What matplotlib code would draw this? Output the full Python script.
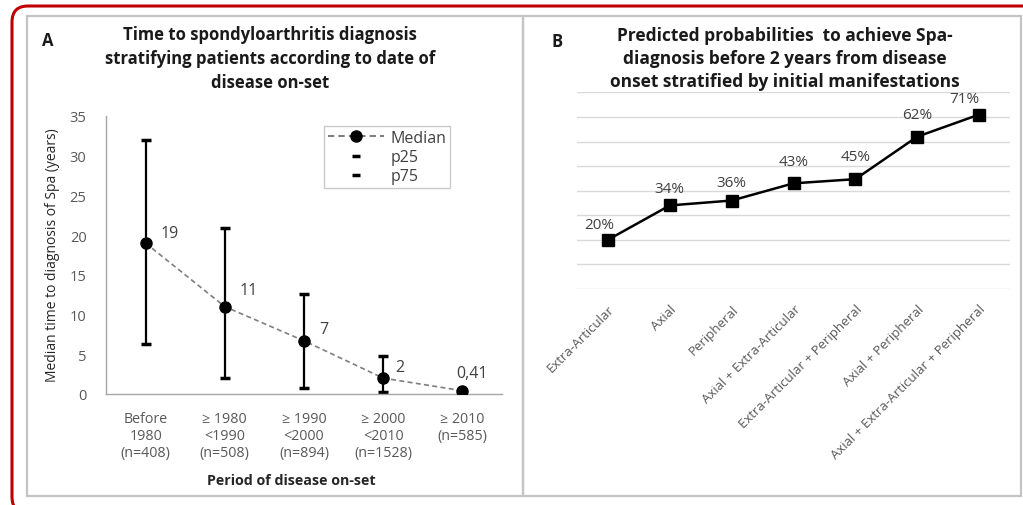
import matplotlib
matplotlib.use("Agg")
import matplotlib.pyplot as plt
from matplotlib.patches import FancyBboxPatch, Rectangle
from matplotlib.lines import Line2D
from matplotlib.transforms import IdentityTransform
import numpy as np

plt.rcParams['font.family'] = ['Open Sans', 'DejaVu Sans']

# ---- Panel A data ----
periods = ["Before\n1980\n(n=408)", "\u2265 1980\n<1990\n(n=508)", "\u2265 1990\n<2000\n(n=894)",
           "\u2265 2000\n<2010\n(n=1528)", "\u2265 2010\n(n=585)"]
median = [19, 11, 6.7, 2, 0.41]
median_labels = ["19", "11", "7", "2", "0,41"]
p25 = [6.3, 2.0, 0.7, 0.2]
p75 = [32.0, 20.9, 12.6, 4.8]
yticks_a = [0, 5, 10, 15, 20, 25, 30, 35]

# ---- Panel B data ----
manifest = ["Extra-Articular", "Axial", "Peripheral", "Axial + Extra-Articular",
            "Extra-Articular + Peripheral", "Axial + Peripheral",
            "Axial + Extra-Articular + Peripheral"]
prob = [0.20, 0.34, 0.36, 0.43, 0.447, 0.62, 0.71]
prob_labels = ["20%", "34%", "36%", "43%", "45%", "62%", "71%"]

W, H = 1023, 506
fig = plt.figure(figsize=(W / 100, H / 100), dpi=100)
fig.patch.set_facecolor('white')

def fx(px):
    return px / W

def fy(py):
    return 1 - py / H

# panel boxes
for (x0, y0, x1, y1) in [(27, 17, 523, 497), (523, 17, 1021, 497)]:
    fig.patches.append(Rectangle((fx(x0), fy(y1)), fx(x1) - fx(x0), fy(y0) - fy(y1),
                                 transform=fig.transFigure, fill=False,
                                 edgecolor='#c4c4c4', linewidth=1.6, zorder=0))

# red rounded border (pixel coords)
border = FancyBboxPatch((12, -8), 1040, 506 - 7 + 8,
                        boxstyle="round,pad=0,rounding_size=16",
                        transform=IdentityTransform(), fill=False,
                        edgecolor='#c00000', linewidth=2.2)
fig.patches.append(border)

gray_txt = '#595959'

# ---------------- Panel A ----------------
axA = fig.add_axes([fx(106), fy(395), fx(502) - fx(106), fy(117) - fy(395)])
xa = np.arange(len(periods))
axA.set_xlim(-0.5, len(periods) - 0.5)
axA.set_ylim(0, 35)
axA.plot(xa, median, linestyle=(0, (3, 2)), color='#7f7f7f', linewidth=1.2,
         marker='o', markersize=8, markerfacecolor='black', markeredgecolor='black', zorder=3)
n = len(p25)
axA.vlines(xa[:n], p25, p75, color='black', linewidth=1.6, zorder=2)
axA.plot(xa[:n], p25, linestyle='none', marker='_', markersize=7, markeredgewidth=2.5, color='black')
axA.plot(xa[:n], p75, linestyle='none', marker='_', markersize=7, markeredgewidth=2.5, color='black')

offsA = [(15, 10), (15, 17), (15, 12), (12, 11), (-6, 18)]
for i, (v, lab) in enumerate(zip(median, median_labels)):
    axA.annotate(lab, (xa[i], v), xytext=offsA[i], textcoords='offset pixels',
                 ha='left', va='center', fontsize=11.5, color='#404040')

for s in ['top', 'right']:
    axA.spines[s].set_visible(False)
for s in ['left', 'bottom']:
    axA.spines[s].set_color('#a6a6a6')
    axA.spines[s].set_linewidth(1.0)
axA.set_yticks(yticks_a)
axA.set_yticklabels([str(t) for t in yticks_a], fontsize=10.5, color=gray_txt)
axA.set_xticks(xa)
axA.set_xticklabels(periods, fontsize=10.3, color=gray_txt, linespacing=1.2)
axA.tick_params(axis='both', length=0)
axA.tick_params(axis='y', pad=14)
axA.tick_params(axis='x', pad=12)

handles = [Line2D([0], [0], linestyle=(0, (3, 2)), color='#7f7f7f', marker='o', markersize=8,
                  markerfacecolor='black', markeredgecolor='black'),
           Line2D([0], [0], linestyle='none', marker='_', markersize=6, markeredgewidth=2.5, color='black'),
           Line2D([0], [0], linestyle='none', marker='_', markersize=6, markeredgewidth=2.5, color='black')]
leg = fig.legend(handles, ['Median', 'p25', 'p75'], loc='upper left',
                 bbox_to_anchor=(fx(324), fy(127)), bbox_transform=fig.transFigure,
                 frameon=True, fancybox=False, fontsize=11.5, labelcolor='#404040',
                 handlelength=3.5, borderpad=0.25, labelspacing=0.2, handletextpad=0.4,
                 borderaxespad=0)
leg.get_frame().set_edgecolor('#bfbfbf')
leg.get_frame().set_linewidth(1.0)

fig.text(fx(53), fy(255), "Median time to diagnosis of Spa (years)", rotation=90,
         ha='center', va='center', fontsize=10, color='#262626')
fig.text(fx(291), fy(481), "Period of disease on-set", ha='center', va='center',
         fontsize=10.3, fontweight='bold', color='#262626')
fig.text(fx(270), fy(59), "Time to spondyloarthritis diagnosis\nstratifying patients according to date of\ndisease on-set",
         ha='center', va='center', fontsize=12, fontweight='bold', linespacing=1.42, color='#1a1a1a')
fig.text(fx(48), fy(41), "A", ha='center', va='center', fontsize=12, fontweight='bold', color='#1a1a1a')

# ---------------- Panel B ----------------
axB = fig.add_axes([fx(577), fy(290.4), fx(1010) - fx(577), fy(93) - fy(290.4)])
xb = np.arange(len(manifest))
axB.set_xlim(-0.5, len(manifest) - 0.5)
axB.set_ylim(-0.002, 0.802)
axB.set_yticks(np.arange(0, 0.81, 0.1))
axB.yaxis.grid(True, color='#d9d9d9', linewidth=1.0)
axB.set_axisbelow(True)
axB.set_yticklabels([])
axB.plot(xb, prob, color='black', linewidth=1.8, marker='s', markersize=8,
         markerfacecolor='black', markeredgecolor='black', zorder=3)
offsB = [(-9, 15), (0, 17), (0, 18), (0, 22), (0, 23), (0, 22), (-15, 16)]
for i, (v, lab) in enumerate(zip(prob, prob_labels)):
    axB.annotate(lab, (xb[i], v), xytext=offsB[i], textcoords='offset pixels',
                 ha='center', va='center', fontsize=11, color='#404040')
for s in axB.spines.values():
    s.set_visible(False)
axB.tick_params(axis='both', length=0)
axB.set_xticks(xb)
axB.set_xticklabels(manifest, rotation=45, ha='right', rotation_mode='anchor',
                    fontsize=9.5, color=gray_txt)
axB.tick_params(axis='x', pad=9)

fig.text(fx(785), fy(59), "Predicted probabilities  to achieve Spa-\ndiagnosis before 2 years from disease\nonset stratified by initial manifestations",
         ha='center', va='center', fontsize=12.5, fontweight='bold', linespacing=1.38, color='#1a1a1a')
fig.text(fx(557), fy(42), "B", ha='center', va='center', fontsize=12, fontweight='bold', color='#1a1a1a')

fig.savefig("out.png", dpi=100, facecolor='white')
